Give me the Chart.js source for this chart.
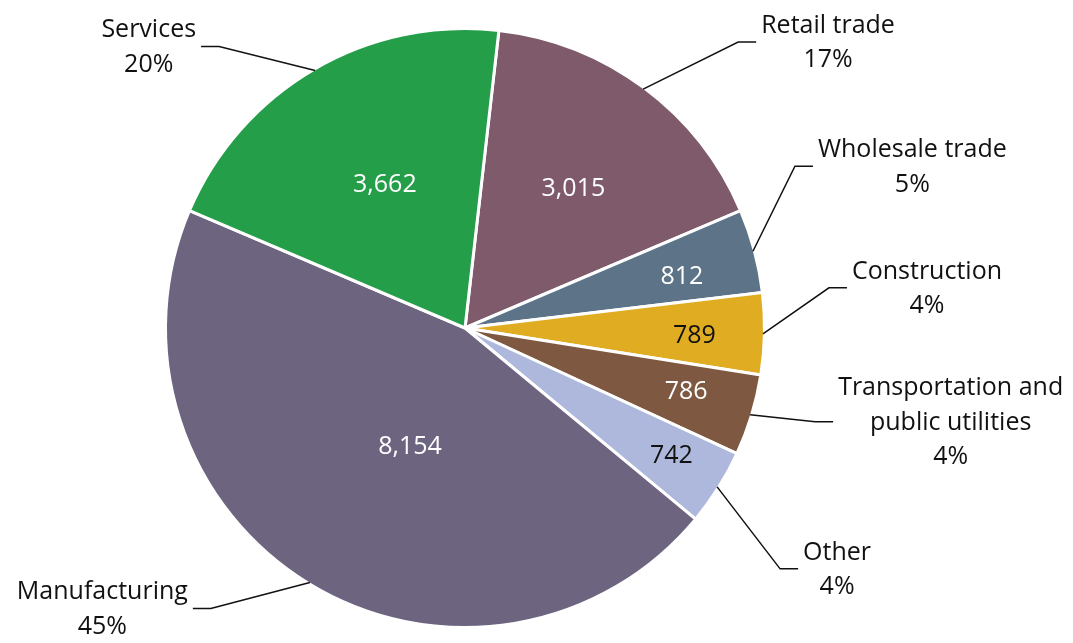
<!DOCTYPE html>
<html>
<head>
<meta charset="utf-8">
<script src="https://cdn.jsdelivr.net/npm/chart.js@4"></script>
<style>
  html, body { margin: 0; padding: 0; background: #fff; }
  #wrap { width: 1073px; height: 643px; }
</style>
</head>
<body>
<div id="wrap"><canvas id="pieChart" width="1073" height="643"></canvas></div>
<script>
// Data, clockwise from the top
const categories = ['Retail trade', 'Wholesale trade', 'Construction',
  ['Transportation and', 'public utilities'], 'Other', 'Manufacturing', 'Services'];
const employees = [3015, 812, 789, 786, 742, 8154, 3662];

// Styling (kept apart from the data)
const sliceColors = ['#7f5a6b', '#5d7388', '#e0ac22', '#7f5841', '#adb8dc', '#6d6480', '#249e49'];
const valueColors = ['#fff', '#fff', '#111', '#fff', '#111', '#fff', '#fff'];
// where the value sits inside the slice: fraction of radius, angle shift (deg)
const valueRadius = [0.60, 0.75, 0.77, 0.77, 0.81, 0.43, 0.56];
const valueShift = [0.6, 0.9, 0, -1.5, -1, -6, 1.5];
// elbow of the leader line relative to where it leaves the pie
const elbowOffset = [[95, -47], [42, -85], [66, -46], [65, 7], [63, 82], [-99, 26], [-96, -24]];

const FONT = '"Open Sans", "Noto Sans", sans-serif';
const total = employees.reduce((a, b) => a + b, 0);

const labelPlugin = {
  id: 'pieLabels',
  afterDatasetsDraw(chart) {
    const ctx = chart.ctx;
    const arcs = chart.getDatasetMeta(0).data;
    ctx.save();
    ctx.font = '25px ' + FONT;
    ctx.textBaseline = 'middle';
    ctx.textAlign = 'center';

    arcs.forEach((arc, i) => {
      const p = arc.getProps(['x', 'y', 'startAngle', 'endAngle', 'outerRadius'], true);
      const mid = (p.startAngle + p.endAngle) / 2;
      const r = 298;

      // value inside slice
      const va = mid + valueShift[i] * Math.PI / 180;
      const vr = r * valueRadius[i];
      ctx.fillStyle = valueColors[i];
      ctx.fillText(employees[i].toLocaleString('en-US'), p.x + Math.cos(va) * vr, p.y + Math.sin(va) * vr + 3);

      // leader line
      const ex = p.x + Math.cos(mid) * r;
      const ey = p.y + Math.sin(mid) * r;
      const bx = ex + elbowOffset[i][0];
      const by = ey + elbowOffset[i][1];
      const right = elbowOffset[i][0] > 0;
      const hx = bx + (right ? 18 : -18);
      ctx.strokeStyle = '#111';
      ctx.lineWidth = 1.5;
      ctx.beginPath();
      ctx.moveTo(ex, ey);
      ctx.lineTo(bx, by);
      ctx.lineTo(hx, by);
      ctx.stroke();

      // name + percent
      const lines = [].concat(categories[i]);
      lines.push(Math.round(employees[i] / total * 100) + '%');
      const w = Math.max(...lines.map(t => ctx.measureText(t).width));
      const cx = right ? hx + 5 + w / 2 : hx - 5 - w / 2;
      const lh = 34.5;
      const cy = by + 1;
      ctx.fillStyle = '#111';
      lines.forEach((t, k) => {
        ctx.fillText(t, cx, cy + (k - (lines.length - 1) / 2) * lh);
      });
    });
    ctx.restore();
  }
};

new Chart(document.getElementById('pieChart').getContext('2d'), {
  type: 'pie',
  data: {
    labels: categories,
    datasets: [{
      data: employees,
      backgroundColor: sliceColors,
      borderColor: '#fff',
      borderWidth: 3
    }]
  },
  options: {
    responsive: false,
    animation: false,
    devicePixelRatio: 1,
    rotation: 6.5,
    layout: { padding: { top: 27, bottom: 14, left: 98, right: 241 } },
    plugins: {
      legend: { display: false },
      tooltip: { enabled: false }
    }
  },
  plugins: [labelPlugin]
});
</script>
</body>
</html>
